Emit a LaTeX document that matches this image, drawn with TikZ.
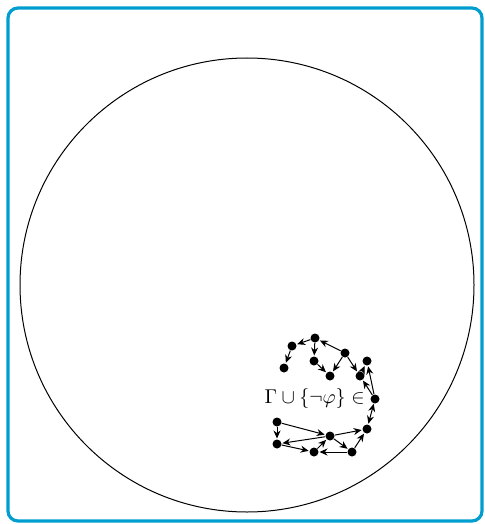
\documentclass[tikz,border=0pt]{standalone}
\usetikzlibrary{arrows.meta}
\definecolor{frameblue}{RGB}{0,158,208}
\begin{document}
\begin{tikzpicture}[x=0.5pt,y=-0.5pt,
  dot/.style={circle,fill=black,inner sep=0pt,minimum size=4.5pt},
  arr/.style={-{Stealth[length=4pt,width=3.5pt]},line width=0.5pt,shorten >=0.3pt}]
\useasboundingbox (0,0) rectangle (484,524);
\draw[frameblue,line width=1.6pt,rounded corners=5pt] (8,8) rectangle (482,521);
\node[circle,draw,line width=0.5pt,minimum size=454pt*0.5,inner sep=0pt] (big) at (247,285) {};
\node[anchor=east,inner sep=0pt] (txt) at (365,398) {$\Gamma\cup\{\neg\varphi\}\in$};
\node[dot] (A) at (315,338) {};
\node[dot] (B) at (292,346) {};
\node[dot] (C) at (284,368) {};
\node[dot] (D) at (314,361) {};
\node[dot] (E) at (330,376) {};
\node[dot] (F) at (345,353) {};
\node[dot] (G) at (360,376) {};
\node[dot] (H) at (367,361) {};
\node[dot] (I) at (375,399) {};
\node[dot] (J) at (367,429) {};
\node[dot] (K) at (352,452) {};
\node[dot] (L) at (314,452) {};
\node[dot] (M) at (330,436) {};
\node[dot] (N) at (277,422) {};
\node[dot] (O) at (277,444) {};
\draw[arr] (A) -- (B);
\draw[arr] (B) -- (C);
\draw[arr] (A) -- (D);
\draw[arr] (D) -- (E);
\draw[arr] (F) -- (A);
\draw[arr] (F) -- (E);
\draw[arr] (F) -- (G);
\draw[arr] (G) -- (H);
\draw[arr] (I) -- (H);
\draw[arr] (I) -- (G);
\draw[arr,{Stealth[length=4pt,width=3.5pt]}-{Stealth[length=4pt,width=3.5pt]}] (I) -- (J);
\draw[arr] (K) -- (J);
\draw[arr] (M) -- (J);
\draw[arr] (M) -- (K);
\draw[arr] (K) -- (L);
\draw[arr] (L) -- (M);
\draw[arr] (O) -- (L);
\draw[arr] (M) -- (O);
\draw[arr] (N) -- (M);
\draw[arr] (N) -- (O);
\end{tikzpicture}
\end{document}
